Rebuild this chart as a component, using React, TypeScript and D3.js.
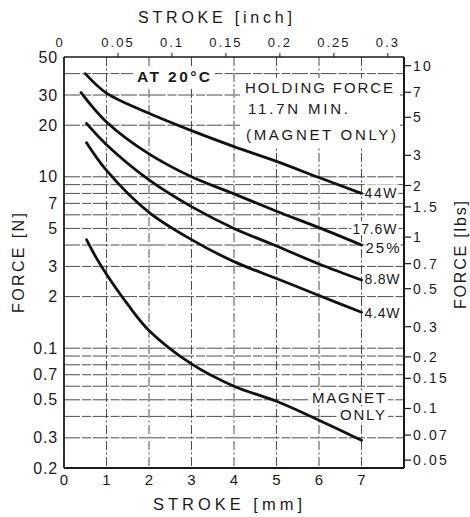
import React from 'react';
import * as d3 from 'd3';

// ---------- data ----------
const N_PER_LBF = 4.44822;
const strokeTicksMm = [0, 1, 2, 3, 4, 5, 6, 7];
const strokeTicksInch = [0, 0.05, 0.1, 0.15, 0.2, 0.25, 0.3];
const inchLabels = ['0', '0.05', '0.1', '0.15', '0.2', '0.25', '0.3'];
const forceTicksN = [50, 30, 20, 10, 7, 5, 3, 2, 1, 0.7, 0.5, 0.3, 0.2];
const forceLabelsN = ['50', '30', '20', '10', '7', '5', '3', '2', '0.1', '0.7', '0.5', '0.3', '0.2'];
const forceTicksLbs = [10, 7, 5, 3, 2, 1.5, 1, 0.7, 0.5, 0.3, 0.2, 0.15, 0.1, 0.07, 0.05];
const forceLabelsLbs = ['10', '7', '5', '3', '2', '1.5', '1', '0.7', '0.5', '0.3', '0.2', '0.15', '0.1', '0.07', '0.05'];
const gridForceN = [40, 30, 20, 10, 9, 8, 7, 6, 5, 4, 3, 2, 1, 0.9, 0.8, 0.7, 0.6, 0.5, 0.4, 0.3];

const stroke44W = [0.5, 1, 2, 3, 4, 5, 6, 7];
const force44W = [40, 30.8, 23.5, 18.6, 15, 12.3, 9.9, 8.0];
const stroke17W = [0.4, 1, 2, 3, 4, 5, 6, 7];
const force17W = [31, 20.9, 13.6, 10, 7.95, 6.3, 5.05, 4.0];
const stroke8W = [0.53, 1, 2, 3, 4, 5, 6, 7];
const force8W = [20.5, 15.4, 9.6, 6.7, 5.0, 3.95, 3.1, 2.5];
const stroke4W = [0.53, 1, 2, 3, 4, 5, 6, 7];
const force4W = [15.8, 10.9, 6.2, 4.3, 3.2, 2.55, 2.03, 1.62];
const strokeMagnet = [0.53, 0.75, 1, 1.5, 2, 3, 4, 5, 6, 7];
const forceMagnet = [4.3, 3.4, 2.7, 1.8, 1.27, 0.81, 0.6, 0.49, 0.38, 0.29];

const seriesNames = ['44W', '17.6W', '8.8W', '4.4W', 'MAGNET ONLY'];
const seriesStrokes = [stroke44W, stroke17W, stroke8W, stroke4W, strokeMagnet];
const seriesForces = [force44W, force17W, force8W, force4W, forceMagnet];

const FONT = "'Liberation Sans', Arial, Helvetica, sans-serif";
const INK = '#1a1a1a';

export default function App() {
  const L = 64, R = 404, T = 57, B = 468;
  const x = d3.scaleLinear().domain([0, 8]).range([L, R]);
  const xIn = d3.scaleLinear().domain([0, 8 / 25.4]).range([L, R]);
  const y = d3.scaleLog().domain([0.2, 50]).range([B, T]);
  const yLb = d3.scaleLog().domain([0.2 / N_PER_LBF, 50 / N_PER_LBF]).range([B, T]);

  const line = d3
    .line<[number, number]>()
    .x((d) => x(d[0]))
    .y((d) => y(d[1]))
    .curve(d3.curveCatmullRom.alpha(0.5));

  const paths = seriesStrokes.map((xs, i) =>
    line(xs.map((s, j) => [s, seriesForces[i][j]] as [number, number])) || ''
  );

  const endY = (i: number) => y(seriesForces[i][seriesForces[i].length - 1]);
  const endX = x(7);

  return (
    <svg
      width={470}
      height={517}
      viewBox="0 0 470 517"
      style={{ position: 'absolute', left: 0, top: 0, background: '#fff' }}
      fontFamily={FONT}
    >
      <rect x={0} y={0} width={470} height={517} fill="#fff" />

      {/* horizontal grid */}
      {gridForceN.map((v) => (
        <line
          key={'h' + v}
          x1={L}
          x2={R}
          y1={y(v)}
          y2={y(v)}
          stroke="#3a3a3a"
          strokeWidth={0.9}
          strokeDasharray="16 2 9 1.5"
        />
      ))}
      {/* vertical grid */}
      {strokeTicksMm.slice(1).map((v) => (
        <line
          key={'v' + v}
          x1={x(v)}
          x2={x(v)}
          y1={T}
          y2={B}
          stroke="#3a3a3a"
          strokeWidth={0.9}
          strokeDasharray="9 2.5 2 2.5"
        />
      ))}

      {/* annotation boxes (white backgrounds) */}
      <rect x={133} y={66} width={82} height={22} fill="#fff" />
      <rect x={240} y={78} width={160} height={68} fill="#fff" />
      <rect x={endX + 3} y={endY(0) - 9} width={34} height={15} fill="#fff" />
      <rect x={endX - 10} y={endY(1) - 24} width={47} height={14} fill="#fff" />
      <rect x={endX + 3} y={endY(1) - 6} width={36} height={15} fill="#fff" />
      <rect x={endX + 3} y={endY(2) - 8} width={36} height={14} fill="#fff" />
      <rect x={endX + 3} y={endY(3) - 7} width={36} height={14} fill="#fff" />
      <rect x={309} y={390} width={79} height={15} fill="#fff" />
      <rect x={337} y={407} width={51} height={15} fill="#fff" />

      {/* curves */}
      {paths.map((d, i) => (
        <path key={'c' + i} d={d} fill="none" stroke="#111" strokeWidth={2.8} strokeLinecap="round" />
      ))}

      {/* frame */}
      <line x1={L} x2={R} y1={T} y2={T} stroke={INK} strokeWidth={1.3} />
      <line x1={L} x2={L} y1={T} y2={B} stroke={INK} strokeWidth={1.8} />
      <line x1={R} x2={R} y1={T} y2={B} stroke={INK} strokeWidth={2} />
      <line x1={L} x2={R} y1={B} y2={B} stroke={INK} strokeWidth={2} />

      {/* top inch axis */}
      {strokeTicksInch.map((v, i) => (
        <g key={'ti' + v}>
          {i > 0 && <line x1={xIn(v)} x2={xIn(v)} y1={T} y2={T - 4} stroke={INK} strokeWidth={1} />}
          <text
            x={xIn(v) - (i === 0 ? 4 : 0)}
            y={47}
            fontSize={13}
            letterSpacing={2}
            textAnchor="middle"
            fill={INK}
          >
            {inchLabels[i]}
          </text>
        </g>
      ))}
      <text x={138} y={23} fontSize={16} textLength={154} lengthAdjust="spacing" fill={INK}>
        STROKE [inch]
      </text>

      {/* bottom mm axis */}
      {strokeTicksMm.map((v) => (
        <text key={'bm' + v} x={x(v)} y={485} fontSize={15} textAnchor="middle" fill={INK}>
          {String(v)}
        </text>
      ))}
      <text x={153} y={510} fontSize={16.5} textLength={149} lengthAdjust="spacing" fill={INK}>
        STROKE [mm]
      </text>

      {/* left N axis */}
      {forceTicksN.map((v, i) => (
        <text
          key={'ln' + v}
          x={58}
          y={y(v) + 5.5}
          fontSize={16}
          letterSpacing={0.8}
          textAnchor="end"
          fill={INK}
        >
          {forceLabelsN[i]}
        </text>
      ))}
      <text
        transform={`translate(24, ${313}) rotate(-90)`}
        fontSize={16}
        textLength={100}
        lengthAdjust="spacing"
        fill={INK}
      >
        FORCE [N]
      </text>

      {/* right lbs axis */}
      {forceTicksLbs.map((v, i) => (
        <g key={'rl' + v}>
          <line x1={R} x2={R + 7} y1={yLb(v)} y2={yLb(v)} stroke={INK} strokeWidth={1.2} />
          <text x={R + 9} y={yLb(v) + 5} fontSize={14} letterSpacing={2.2} fill={INK}>
            {forceLabelsLbs[i]}
          </text>
        </g>
      ))}
      <text
        transform={`translate(466, ${309}) rotate(-90)`}
        fontSize={16}
        textLength={108}
        lengthAdjust="spacing"
        fill={INK}
      >
        FORCE [lbs]
      </text>

      {/* annotations */}
      <text x={137} y={82} fontSize={15.5} fontWeight={600} textLength={73} lengthAdjust="spacing" fill={INK}>
        AT 20°C
      </text>
      <text x={245} y={93} fontSize={15} textLength={148} lengthAdjust="spacing" fill={INK}>
        HOLDING FORCE
      </text>
      <text x={248} y={114} fontSize={15} textLength={100} lengthAdjust="spacing" fill={INK}>
        11.7N MIN.
      </text>
      <text x={246} y={140} fontSize={15} textLength={150} lengthAdjust="spacing" fill={INK}>
        (MAGNET ONLY)
      </text>

      {/* curve labels */}
      <text x={endX + 3} y={endY(0) + 5} fontSize={14} textLength={32} lengthAdjust="spacing" fill={INK}>
        {seriesNames[0]}
      </text>
      <text x={endX - 9} y={endY(1) - 11.5} fontSize={14} textLength={44} lengthAdjust="spacing" fill={INK}>
        {seriesNames[1]}
      </text>
      <text x={endX + 4} y={endY(1) + 7.5} fontSize={15} textLength={34} lengthAdjust="spacing" fill={INK}>
        25%
      </text>
      <text x={endX + 3} y={endY(2) + 4.5} fontSize={14} textLength={35} lengthAdjust="spacing" fill={INK}>
        {seriesNames[2]}
      </text>
      <text x={endX + 3} y={endY(3) + 6} fontSize={14} textLength={35} lengthAdjust="spacing" fill={INK}>
        {seriesNames[3]}
      </text>
      <text x={312} y={403} fontSize={15} textLength={73} lengthAdjust="spacing" fill={INK}>
        MAGNET
      </text>
      <text x={340} y={420} fontSize={15} textLength={45} lengthAdjust="spacing" fill={INK}>
        ONLY
      </text>
    </svg>
  );
}
